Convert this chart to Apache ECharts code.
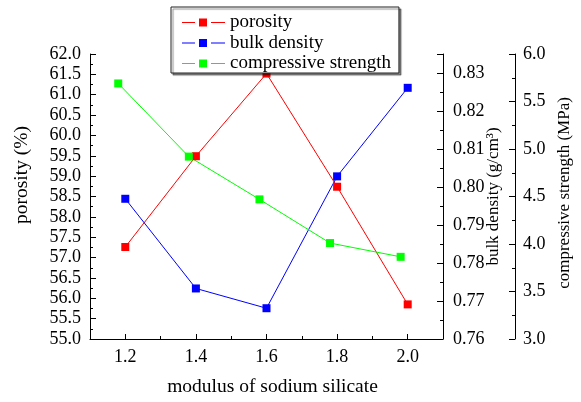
<!DOCTYPE html>
<html>
<head>
<meta charset="utf-8">
<script src="https://cdn.jsdelivr.net/npm/echarts@6/dist/echarts.min.js"></script>
<style>
html,body{margin:0;padding:0;background:#fff;}
#chart{width:581px;height:402px;}
</style>
</head>
<body>
<div id="chart"></div>
<script>
// ---- data ----
var modulus = [1.2, 1.4, 1.6, 1.8, 2.0];
var strengthModulus = [1.18, 1.38, 1.58, 1.78, 1.98];
var porosity = [57.26, 59.49, 61.52, 58.74, 55.85];
var bulkDensity = [0.7969, 0.7733, 0.7681, 0.8028, 0.8261];
var compressiveStrength = [5.69, 4.92, 4.47, 4.01, 3.865];
var xTickLabels = [1.2, 1.4, 1.6, 1.8, 2.0];
var xMinorTicks = [1.3, 1.5, 1.7, 1.9];
var seriesNames = ['porosity', 'bulk density', 'compressive strength'];
var axisNames = ['modulus of sodium silicate', 'porosity (%)', 'bulk density (g/cm³)', 'compressive strength (MPa)'];

function pairs(xs, ys) { return xs.map(function (x, i) { return [x, ys[i]]; }); }

var FONT = 'Liberation Serif';
var lbl = { color: '#000', fontFamily: FONT, fontSize: 18 };
function nameStyle(size, pad) { return { color: '#000', fontFamily: FONT, fontSize: size, padding: pad }; }
var axisLine = { show: true, lineStyle: { color: '#000', width: 1 } };
var tickStyle = { color: '#000', width: 1 };
var legendIcon = 'path://M0,3.5h13v1H0zM17,0h8v8h-8zM29,3.5h14v1H29z';

var chart = echarts.init(document.getElementById('chart'), null, { renderer: 'canvas' });
chart.setOption({
  animation: false,
  backgroundColor: '#fff',
  textStyle: { fontFamily: FONT },
  grid: { left: 90, right: 134, top: 54, bottom: 54, containLabel: false },
  legend: {
    orient: 'vertical',
    left: 171, top: 7,
    padding: [6, 8, 0, 11],
    itemGap: 1.5,
    itemWidth: 43, itemHeight: 8,
    icon: legendIcon,
    itemStyle: { borderWidth: 0 },
    backgroundColor: '#fff',
    borderColor: '#222', borderWidth: 1,
    shadowColor: 'rgba(0,0,0,0.45)', shadowOffsetX: 2, shadowOffsetY: 2, shadowBlur: 1,
    textStyle: { color: '#000', fontFamily: FONT, fontSize: 19 },
    data: seriesNames,
    z: 10
  },
  xAxis: [{
    type: 'value', min: 1.1, max: 2.1,
    name: axisNames[0], nameLocation: 'middle', nameGap: 38, nameMoveOverlap: false,
    nameTextStyle: nameStyle(19.5, [0, 0, 0, 12]),
    axisLine: axisLine,
    axisTick: { show: true, inside: true, length: 5, customValues: xTickLabels, lineStyle: tickStyle },
    axisLabel: Object.assign({ margin: 9, customValues: xTickLabels, formatter: function (v) { return v.toFixed(1); } }, lbl),
    splitLine: { show: false }
  }, {
    type: 'value', min: 1.1, max: 2.1, position: 'bottom',
    axisLine: { show: false },
    axisTick: { show: true, inside: true, length: 3, customValues: xMinorTicks, lineStyle: tickStyle },
    axisLabel: { show: false },
    splitLine: { show: false }
  }],
  yAxis: [{
    type: 'value', position: 'left', min: 55, max: 62, interval: 0.5,
    name: axisNames[1], nameLocation: 'middle', nameGap: 58, nameMoveOverlap: false,
    nameTextStyle: nameStyle(19.5, [0, 0, 0, 43]),
    axisLine: axisLine,
    axisTick: { show: true, inside: true, length: 6, lineStyle: tickStyle },
    minorTick: { show: true, splitNumber: 2, length: 3, lineStyle: tickStyle },
    axisLabel: Object.assign({ margin: 9, formatter: function (v) { return v.toFixed(1); } }, lbl),
    splitLine: { show: false }
  }, {
    type: 'value', position: 'right', offset: 0, min: 0.76, max: 0.835, interval: 0.01,
    name: axisNames[2], nameLocation: 'middle', nameGap: 42, nameMoveOverlap: false,
    nameTextStyle: nameStyle(17, [0, 0, 0, 0]),
    axisLine: axisLine,
    axisTick: { show: true, inside: true, length: 6, lineStyle: tickStyle },
    minorTick: { show: true, splitNumber: 2, length: 3, lineStyle: tickStyle },
    axisLabel: Object.assign({ margin: 10, formatter: function (v) { return v > 0.8305 ? '' : v.toFixed(2); } }, lbl),
    splitLine: { show: false }
  }, {
    type: 'value', position: 'right', offset: 72, min: 3, max: 6, interval: 0.5,
    name: axisNames[3], nameLocation: 'middle', nameGap: 41, nameMoveOverlap: false,
    nameTextStyle: nameStyle(17, [0, 0, 0, 7]),
    axisLine: axisLine,
    axisTick: { show: true, inside: true, length: 6, lineStyle: tickStyle },
    minorTick: { show: true, splitNumber: 2, length: 3, lineStyle: tickStyle },
    axisLabel: Object.assign({ margin: 8, formatter: function (v) { return v.toFixed(1); } }, lbl),
    splitLine: { show: false }
  }],
  series: [{
    name: seriesNames[0], type: 'line', xAxisIndex: 0, yAxisIndex: 0,
    data: pairs(modulus, porosity),
    symbol: 'rect', symbolSize: 8, color: '#ff0000',
    lineStyle: { width: 1, color: '#ff0000' }, itemStyle: { color: '#ff0000' }
  }, {
    name: seriesNames[1], type: 'line', xAxisIndex: 0, yAxisIndex: 1,
    data: pairs(modulus, bulkDensity),
    symbol: 'rect', symbolSize: 8, color: '#0000ff',
    lineStyle: { width: 1, color: '#0000ff' }, itemStyle: { color: '#0000ff' }
  }, {
    name: seriesNames[2], type: 'line', xAxisIndex: 0, yAxisIndex: 2,
    data: pairs(strengthModulus, compressiveStrength),
    symbol: 'rect', symbolSize: 8, color: '#00ff00',
    lineStyle: { width: 1, color: '#00ff00' }, itemStyle: { color: '#00ff00' }
  }]
});
</script>
</body>
</html>
